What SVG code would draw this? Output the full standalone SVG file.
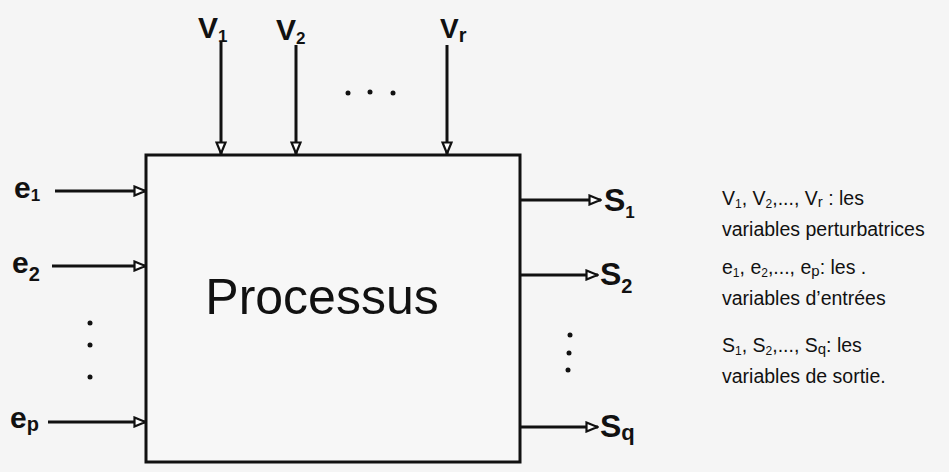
<svg xmlns="http://www.w3.org/2000/svg" width="949" height="472" viewBox="0 0 949 472">
<defs>
<marker id="ah" viewBox="0 0 14 12" refX="13" refY="6" markerWidth="14" markerHeight="12" markerUnits="userSpaceOnUse" orient="auto">
<path d="M1.5,1.5 L12.5,6 L1.5,10.5 Z" fill="#fff" stroke="#111" stroke-width="2.2"/>
</marker>
<style>
.ln{stroke:#111;stroke-width:3;fill:none}
.lb{font-family:"Liberation Sans",Arial,sans-serif;font-weight:bold;fill:#111}
.lg{font-family:"Liberation Sans",Arial,sans-serif;font-size:19.5px;fill:#111}
.dot{fill:#111}
</style>
</defs>
<rect width="949" height="472" fill="#f5f5f5"/>
<g id="process">
<rect x="146" y="155" width="374" height="307" fill="#f7f7f7" stroke="#111" stroke-width="3"/>
<text x="322" y="314" text-anchor="middle" font-family="Liberation Sans, Arial, sans-serif" font-size="50" fill="#111">Processus</text>
</g>
<g id="connectors">
<line class="ln" x1="221" y1="42" x2="221" y2="154" marker-end="url(#ah)"/>
<line class="ln" x1="296" y1="45" x2="296" y2="154" marker-end="url(#ah)"/>
<line class="ln" x1="447" y1="45" x2="447" y2="154" marker-end="url(#ah)"/>
<line class="ln" x1="55" y1="191" x2="146" y2="191" marker-end="url(#ah)"/>
<line class="ln" x1="52" y1="266" x2="146" y2="266" marker-end="url(#ah)"/>
<line class="ln" x1="48" y1="422" x2="146" y2="422" marker-end="url(#ah)"/>
<line class="ln" x1="520" y1="200" x2="601" y2="200" marker-end="url(#ah)"/>
<line class="ln" x1="520" y1="275" x2="598" y2="275" marker-end="url(#ah)"/>
<line class="ln" x1="520" y1="427" x2="598" y2="427" marker-end="url(#ah)"/>
</g>
<g id="labels-top">
<text class="lb" x="198" y="38" font-size="30">V<tspan font-size="17" dy="4">1</tspan></text>
<text class="lb" x="276" y="40" font-size="30">V<tspan font-size="17" dy="4">2</tspan></text>
<text class="lb" x="440" y="38" font-size="28">V<tspan font-size="20" dy="4">r</tspan></text>
<circle class="dot" cx="348" cy="93" r="2.5"/>
<circle class="dot" cx="370" cy="92" r="2.5"/>
<circle class="dot" cx="393" cy="93" r="2.5"/>
</g>
<g id="labels-left">
<text class="lb" x="14" y="198" font-size="30">e<tspan font-size="17" dy="3">1</tspan></text>
<text class="lb" x="12" y="273" font-size="30">e<tspan font-size="20" dy="8">2</tspan></text>
<text class="lb" x="10" y="428" font-size="30">e<tspan font-size="20" dy="3">p</tspan></text>
<circle class="dot" cx="90" cy="323" r="2.5"/>
<circle class="dot" cx="90" cy="345" r="2.5"/>
<circle class="dot" cx="90" cy="377" r="2.5"/>
</g>
<g id="labels-right">
<text class="lb" x="604" y="211" font-size="32">S<tspan font-size="17" dy="7">1</tspan></text>
<text class="lb" x="600" y="285" font-size="32">S<tspan font-size="20" dy="8">2</tspan></text>
<text class="lb" x="600" y="437" font-size="32">S<tspan font-size="22" dy="3">q</tspan></text>
<circle class="dot" cx="570" cy="335" r="2.5"/>
<circle class="dot" cx="569" cy="353" r="2.5"/>
<circle class="dot" cx="568" cy="370" r="2.5"/>
</g>
<g id="legend">
<text class="lg" x="722" y="205">V<tspan font-size="12" dy="3">1</tspan><tspan dy="-3">, V</tspan><tspan font-size="12" dy="3">2</tspan><tspan dy="-3">,..., V</tspan><tspan font-size="15" dy="2">r</tspan><tspan dy="-2"> : les</tspan></text>
<text class="lg" x="722" y="236">variables perturbatrices</text>
<text class="lg" x="722" y="274">e<tspan font-size="12" dy="3">1</tspan><tspan dy="-3">, e</tspan><tspan font-size="12" dy="3">2</tspan><tspan dy="-3">,..., e</tspan><tspan font-size="15" dy="2">p</tspan><tspan dy="-2">:  les  .</tspan></text>
<text class="lg" x="722" y="305">variables d’entrées</text>
<text class="lg" x="722" y="352">S<tspan font-size="12" dy="3">1</tspan><tspan dy="-3">, S</tspan><tspan font-size="12" dy="3">2</tspan><tspan dy="-3">,..., S</tspan><tspan font-size="15" dy="2">q</tspan><tspan dy="-2">: les</tspan></text>
<text class="lg" x="722" y="383">variables de sortie.</text>
</g>
</svg>
